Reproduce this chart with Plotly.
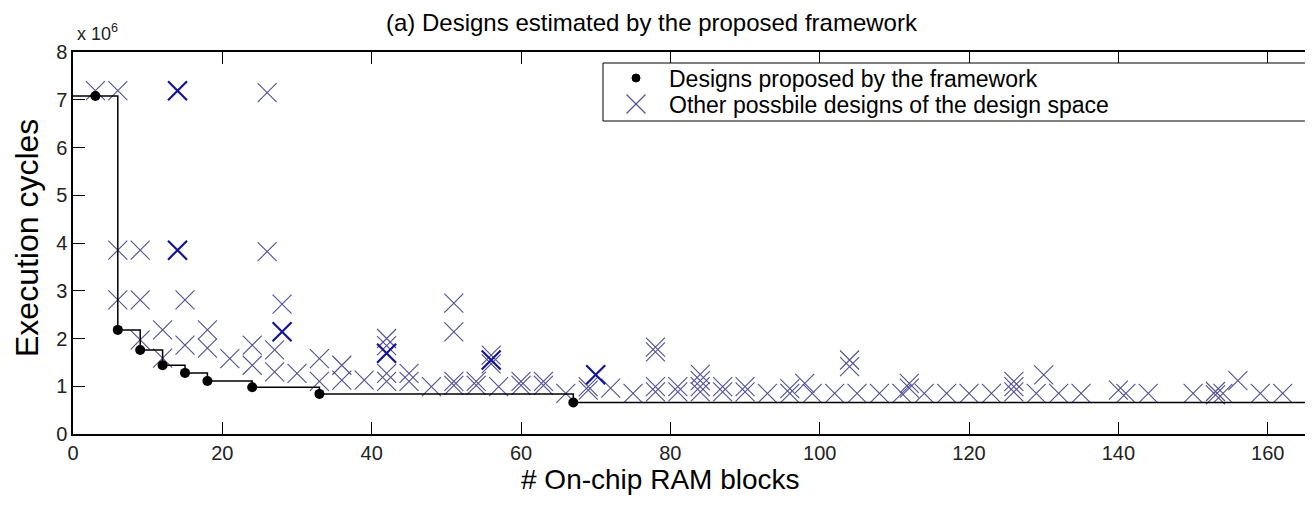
import plotly.graph_objects as go

# Designs proposed by the framework (x: on-chip RAM blocks, y: execution cycles in millions)
prop_x = [3, 6, 9, 12, 15, 18, 24, 33, 67]
prop_y = [7.08, 2.18, 1.76, 1.44, 1.28, 1.11, 0.98, 0.84, 0.66]

# Other possible designs of the design space (y in millions)
other_x = [3, 6, 6, 6, 9, 9, 9, 12, 12, 15, 15, 18, 18, 21, 24, 24, 26, 26, 27, 27,
           28, 30, 33, 33, 36, 36, 39, 42, 42, 42, 42, 45, 45, 48, 51, 51, 51, 51,
           54, 54, 56, 56, 57, 60, 60, 63, 63, 66, 69, 69, 72, 75, 78, 78, 78, 78,
           81, 81, 84, 84, 84, 84, 87, 87, 90, 90, 93, 96, 96, 98, 99, 102, 104, 104,
           105, 108, 111, 112, 112, 114, 117, 120, 123, 126, 126, 126, 129, 130, 132,
           135, 140, 141, 144, 150, 153, 153, 154, 156, 159, 162]
other_y = [7.19, 7.19, 3.85, 2.81, 3.85, 2.81, 1.97, 2.18, 1.59, 2.81, 1.86, 2.18, 1.80,
           1.58, 1.86, 1.44, 7.15, 3.82, 1.76, 1.30, 2.72, 1.27, 1.58, 1.10, 1.44, 1.13,
           1.13, 2.00, 1.85, 1.27, 1.10, 1.27, 1.10, 0.99, 2.74, 2.14, 1.10, 1.02, 1.10,
           1.02, 1.65, 1.47, 0.99, 1.10, 1.02, 1.10, 1.02, 0.85, 0.99, 0.92, 0.96, 0.85,
           1.82, 1.72, 0.99, 0.88, 0.99, 0.88, 1.25, 1.12, 0.99, 0.88, 0.99, 0.88, 0.99,
           0.88, 0.85, 0.95, 0.85, 1.06, 0.85, 0.85, 1.55, 1.41, 0.85, 0.85, 0.85, 1.06,
           0.96, 0.85, 0.85, 0.85, 0.85, 1.10, 0.99, 0.88, 0.85, 1.24, 0.85, 0.85, 0.92,
           0.85, 0.85, 0.85, 0.89, 0.82, 0.85, 1.12, 0.85, 0.85]
# Several overlapping designs (drawn darker)
dup_x = [14, 14, 28, 42, 56, 70]
dup_y = [7.19, 3.85, 2.14, 1.69, 1.55, 1.24]

x_ticks = [0, 20, 40, 60, 80, 100, 120, 140, 160]
y_ticks = [0, 1, 2, 3, 4, 5, 6, 7, 8]

legend_labels = ["Designs proposed by the framework",
                 "Other possbile designs of the design space"]

x_max = 166.06
step_end = 170

step_x = [0] + prop_x[1:] + [step_end]
step_y = prop_y + [prop_y[-1]]

FONT = "Liberation Sans, Arial, sans-serif"
LIGHT = "rgb(80,80,150)"
DARK = "rgb(20,20,150)"

# page pixel -> paper coordinates (plot area spans x 73..1313, y 52..434 on the page)
PX0, PX1, PY0, PY1 = 73, 1313, 434, 52
def px(x):
    return (x - PX0) / (PX1 - PX0)
def py(y):
    return (PY0 - y) / (PY0 - PY1)

fig = go.Figure()
fig.add_trace(go.Scatter(x=other_x, y=other_y, mode="markers", name=legend_labels[1],
                         showlegend=False,
                         marker=dict(symbol="x-thin", size=19, color=LIGHT,
                                     line=dict(color=LIGHT, width=1.1))))
fig.add_trace(go.Scatter(x=dup_x, y=dup_y, mode="markers", showlegend=False,
                         marker=dict(symbol="x-thin", size=19, color=DARK,
                                     line=dict(color=DARK, width=2.2))))
fig.add_trace(go.Scatter(x=step_x, y=step_y, mode="lines", showlegend=False,
                         line=dict(color="black", width=1.5, shape="hv")))
fig.add_trace(go.Scatter(x=prop_x, y=prop_y, mode="markers", name=legend_labels[0],
                         showlegend=False,
                         marker=dict(symbol="circle", size=10, color="black")))

axis_common = dict(showgrid=False, zeroline=False, showline=True, linecolor="black",
                   linewidth=1.5, ticks="inside", ticklen=12, tickcolor="black",
                   tickwidth=1.2, tickfont=dict(family=FONT, size=20, color="#222"))
fig.update_xaxes(range=[0, x_max], tickvals=x_ticks, ticktext=[str(v) for v in x_ticks],
                 mirror="ticks", **axis_common)
fig.update_yaxes(range=[0, 8], tickvals=y_ticks, ticktext=[str(v) for v in y_ticks],
                 mirror=False, **axis_common)

# manual legend
shapes = [
    dict(type="rect", xref="paper", yref="paper", x0=px(603), x1=px(1340),
         y0=py(121), y1=py(63), line=dict(color="black", width=1), fillcolor="white",
         layer="above"),
    dict(type="circle", xref="paper", yref="paper", x0=px(636 - 4), x1=px(636 + 4),
         y0=py(78 + 4), y1=py(78 - 4), line=dict(color="black", width=1),
         fillcolor="black", layer="above"),
    dict(type="line", xref="paper", yref="paper", x0=px(636 - 9.5), x1=px(636 + 9.5),
         y0=py(104 - 9.5), y1=py(104 + 9.5), line=dict(color=LIGHT, width=1.1), layer="above"),
    dict(type="line", xref="paper", yref="paper", x0=px(636 - 9.5), x1=px(636 + 9.5),
         y0=py(104 + 9.5), y1=py(104 - 9.5), line=dict(color=LIGHT, width=1.1), layer="above"),
]

annotations = [
    dict(text=legend_labels[0], xref="paper", yref="paper", x=px(667), y=py(79),
         showarrow=False, xanchor="left", yanchor="middle",
         font=dict(family=FONT, size=23, color="black")),
    dict(text=legend_labels[1], xref="paper", yref="paper", x=px(667), y=py(105),
         showarrow=False, xanchor="left", yanchor="middle",
         font=dict(family=FONT, size=23, color="black")),
    dict(text="(a) Designs estimated by the proposed framework", xref="paper", yref="paper",
         x=px(652), y=py(22), showarrow=False,
         font=dict(family=FONT, size=24, color="black"), xanchor="center", yanchor="middle"),
    dict(text="# On-chip RAM blocks", xref="paper", yref="paper",
         x=px(660), y=py(479), showarrow=False,
         font=dict(family=FONT, size=28, color="black"), xanchor="center", yanchor="middle"),
    dict(text="Execution cycles", xref="paper", yref="paper", textangle=-90,
         x=px(27), y=py(238), showarrow=False,
         font=dict(family=FONT, size=32, color="black"), xanchor="center", yanchor="middle"),
    dict(text="x 10<sup>6</sup>", xref="paper", yref="paper",
         x=px(75), y=py(33), showarrow=False,
         font=dict(family=FONT, size=18, color="#222"), xanchor="left", yanchor="middle"),
]

# the page body adds an 8 px margin, so the figure is 8 px smaller and shifted
fig.update_layout(
    width=1305, height=497,
    margin=dict(l=65, r=0, t=44, b=71, autoexpand=False),
    paper_bgcolor="white", plot_bgcolor="white",
    font=dict(family=FONT, color="black"),
    showlegend=False,
    shapes=shapes,
    annotations=annotations,
)

fig.write_html("out.html")
